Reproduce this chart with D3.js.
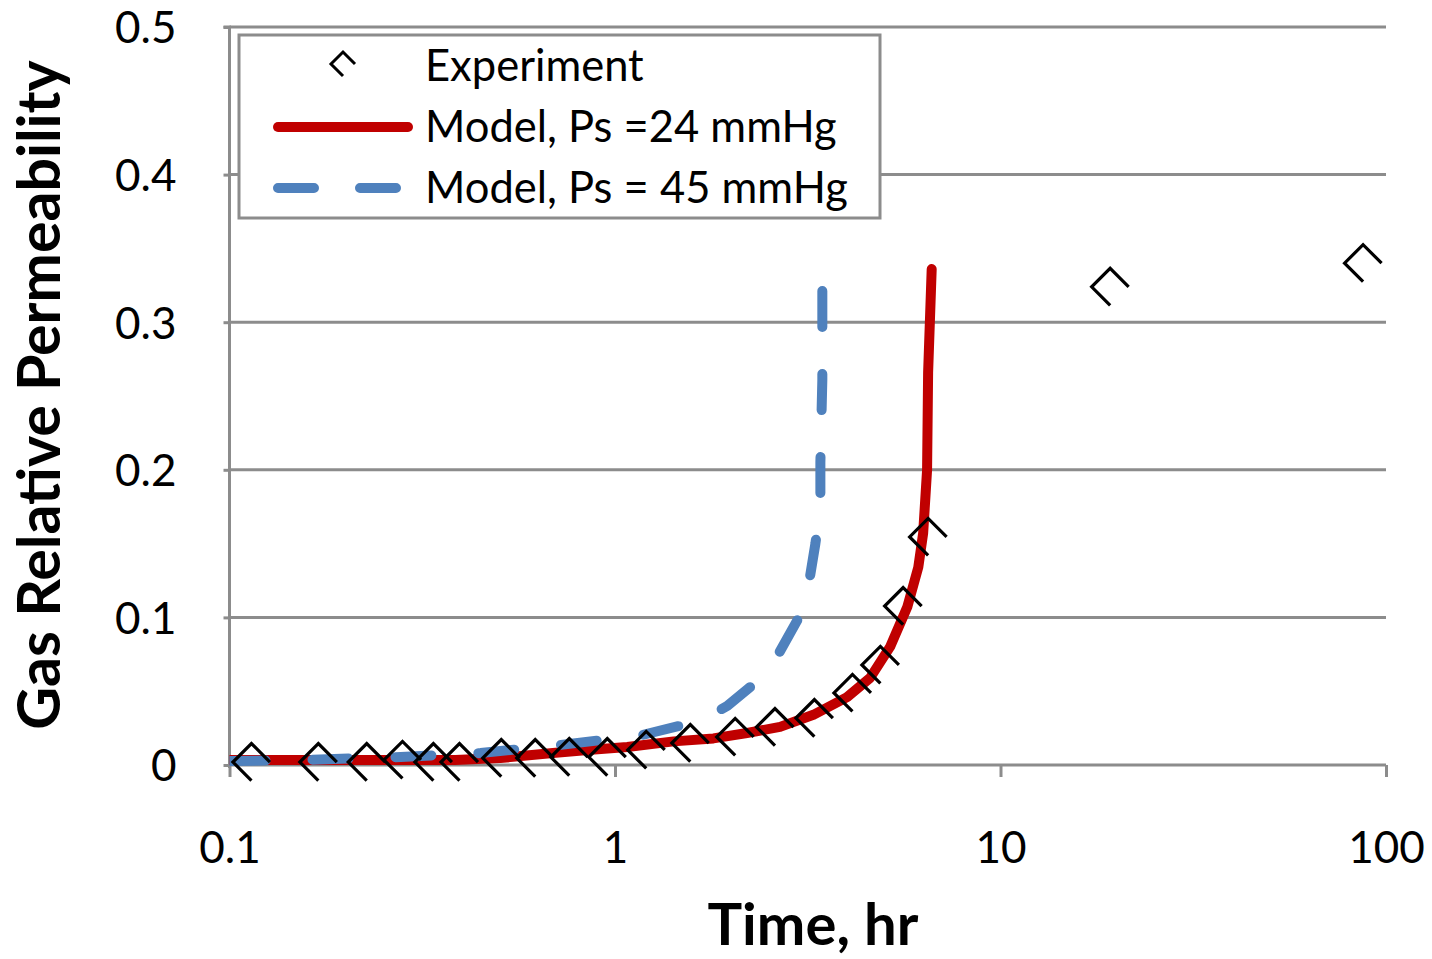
<!DOCTYPE html>
<html>
<head>
<meta charset="utf-8">
<script src="https://cdn.jsdelivr.net/npm/d3@7/dist/d3.min.js"></script>
<style>
  html, body { margin: 0; padding: 0; background: #fff; }
  svg { display: block; }
  text { font-family: Lato, "Open Sans", sans-serif; fill: #000; }
</style>
</head>
<body>
<script>
// ---- data ----
const expTime = [0.114, 0.170, 0.227, 0.281, 0.338, 0.395, 0.507, 0.621, 0.761, 0.955, 1.205, 1.568, 2.05, 2.60, 3.29, 4.13, 4.88, 5.59, 6.49, 19.25, 87.2];
const expKrg  = [0.002, 0.002, 0.002, 0.0034, 0.002, 0.002, 0.0047, 0.0047, 0.0054, 0.0054, 0.0102, 0.0149, 0.019, 0.0257, 0.0318, 0.0488, 0.0678, 0.1077, 0.1545, 0.324, 0.340];

const model24Time = [0.1, 0.385, 0.504, 0.69, 0.85, 1.076, 1.42, 1.80, 2.20, 2.68, 3.27, 4.00, 4.59, 5.17, 5.73, 6.12, 6.30, 6.38, 6.45, 6.49, 6.63];
const model24Krg  = [0.0034, 0.0034, 0.0047, 0.0081, 0.0102, 0.0122, 0.016, 0.018, 0.0217, 0.0258, 0.034, 0.046, 0.059, 0.080, 0.107, 0.134, 0.157, 0.18, 0.200, 0.266, 0.336];

const model45Time = [0.1, 0.153, 0.278, 0.448, 0.722, 1.163, 1.665, 1.956, 2.50, 2.97, 3.17, 3.31, 3.41, 3.41, 3.45, 3.45];
const model45Krg  = [0.0027, 0.0034, 0.0054, 0.0081, 0.0136, 0.020, 0.030, 0.040, 0.063, 0.098, 0.120, 0.150, 0.175, 0.205, 0.261, 0.341];

const xTicks = [0.1, 1, 10, 100];
const xTickLabels = ["0.1", "1", "10", "100"];
const yTicks = [0, 0.1, 0.2, 0.3, 0.4, 0.5];
const yTickLabels = ["0", "0.1", "0.2", "0.3", "0.4", "0.5"];

const seriesNames = ["Experiment", "Model, Ps =24 mmHg", "Model, Ps = 45 mmHg"];
const xTitle = "Time, hr";
const yTitle = "Gas Relative Permeability";

// ---- layout ----
const W = 1432, H = 959;
const L = 229.5, R = 1386, T = 27, B = 765;
const red = "#C00000", blue = "#4F81BD", grid = "#8C8C8C";

const svg = d3.select("body").append("svg").attr("width", W).attr("height", H);

const x = d3.scaleLog().domain([0.1, 100]).range([L, R]);
const y = d3.scaleLinear().domain([0, 0.5]).range([B, T]);

// gridlines
svg.append("g").selectAll("line").data(yTicks.filter(d => d > 0)).join("line")
  .attr("x1", L).attr("x2", R).attr("y1", d => y(d)).attr("y2", d => y(d))
  .attr("stroke", grid).attr("stroke-width", 3);

// y axis
const yAxis = d3.axisLeft(y).tickValues(yTicks).tickSize(6).tickFormat((d, i) => yTickLabels[i]).tickPadding(48);
const gy = svg.append("g").attr("transform", `translate(${L},0)`).call(yAxis);
gy.select(".domain").attr("stroke", grid).attr("stroke-width", 3).attr("d", `M-6,${T}H0V${B + 3}`);
gy.selectAll(".tick line").attr("stroke", grid).attr("stroke-width", 3);
gy.selectAll(".tick text").attr("font-size", 44).attr("font-family", "Lato").attr("fill", "#000").attr("dy", "0.36em").attr("x", -53);

// x axis
const xAxis = d3.axisBottom(x).tickValues(xTicks).tickSize(12).tickFormat((d, i) => xTickLabels[i]).tickPadding(56);
const gx = svg.append("g").attr("transform", `translate(0,${B})`).call(xAxis);
gx.select(".domain").attr("stroke", grid).attr("stroke-width", 3).attr("d", `M${L},0H${R}`);
gx.selectAll(".tick line").attr("stroke", grid).attr("stroke-width", 3);
gx.selectAll(".tick text").attr("font-size", 44).attr("font-family", "Lato").attr("fill", "#000").attr("dy", null).attr("y", 98);

// clip
svg.append("clipPath").attr("id", "plotclip").append("rect")
  .attr("x", L).attr("y", 0).attr("width", R - L + 20).attr("height", B + 10);

const line2 = d3.line().x(d => x(d[0])).y(d => y(d[1])).curve(d3.curveLinear);

const plot = svg.append("g").attr("clip-path", "url(#plotclip)");

plot.append("path")
  .datum(model24Time.map((t, i) => [t, model24Krg[i]]))
  .attr("d", line2).attr("fill", "none").attr("stroke", red)
  .attr("stroke-width", 10).attr("stroke-linejoin", "round").attr("stroke-linecap", "round");

plot.append("path")
  .datum(model45Time.map((t, i) => [t, model45Krg[i]]))
  .attr("d", line2).attr("fill", "none").attr("stroke", blue)
  .attr("stroke-width", 10).attr("stroke-linejoin", "round").attr("stroke-linecap", "round")
  .attr("stroke-dasharray", "36,47");

// markers: diamond missing lower-right edge
function marker(s) {
  return `M${s},0L0,${-s}L${-s},0L0,${s}`;
}
svg.append("g").selectAll("path").data(expTime.map((t, i) => [t, expKrg[i]])).join("path")
  .attr("transform", d => `translate(${x(d[0])},${y(d[1])})`)
  .attr("d", marker(18.5)).attr("fill", "none").attr("stroke", "#000").attr("stroke-width", 3.2)
  .attr("stroke-linejoin", "miter");

// legend
const lg = svg.append("g");
lg.append("rect").attr("x", 239).attr("y", 35).attr("width", 641).attr("height", 183)
  .attr("fill", "#fff").attr("stroke", grid).attr("stroke-width", 3);
lg.append("path").attr("transform", "translate(343,64)").attr("d", marker(12))
  .attr("fill", "none").attr("stroke", "#000").attr("stroke-width", 3);
lg.append("line").attr("x1", 278).attr("x2", 408).attr("y1", 127).attr("y2", 127)
  .attr("stroke", red).attr("stroke-width", 10).attr("stroke-linecap", "round");
lg.append("line").attr("x1", 278).attr("x2", 396).attr("y1", 188).attr("y2", 188)
  .attr("stroke", blue).attr("stroke-width", 10).attr("stroke-linecap", "round")
  .attr("stroke-dasharray", "36,46");
const legY = [81, 142, 203];
lg.selectAll("text.leg").data(seriesNames).join("text").attr("class", "leg")
  .attr("x", 425).attr("y", (d, i) => legY[i]).attr("font-size", 43.5).text(d => d);

// titles
svg.append("text").attr("x", 813).attr("y", 945).attr("text-anchor", "middle")
  .attr("font-size", 58).attr("font-weight", "bold").text(xTitle);
svg.append("text").attr("transform", "translate(60,395) rotate(-90)").attr("text-anchor", "middle")
  .attr("font-size", 59).attr("font-weight", "bold").text(yTitle);
</script>
</body>
</html>
